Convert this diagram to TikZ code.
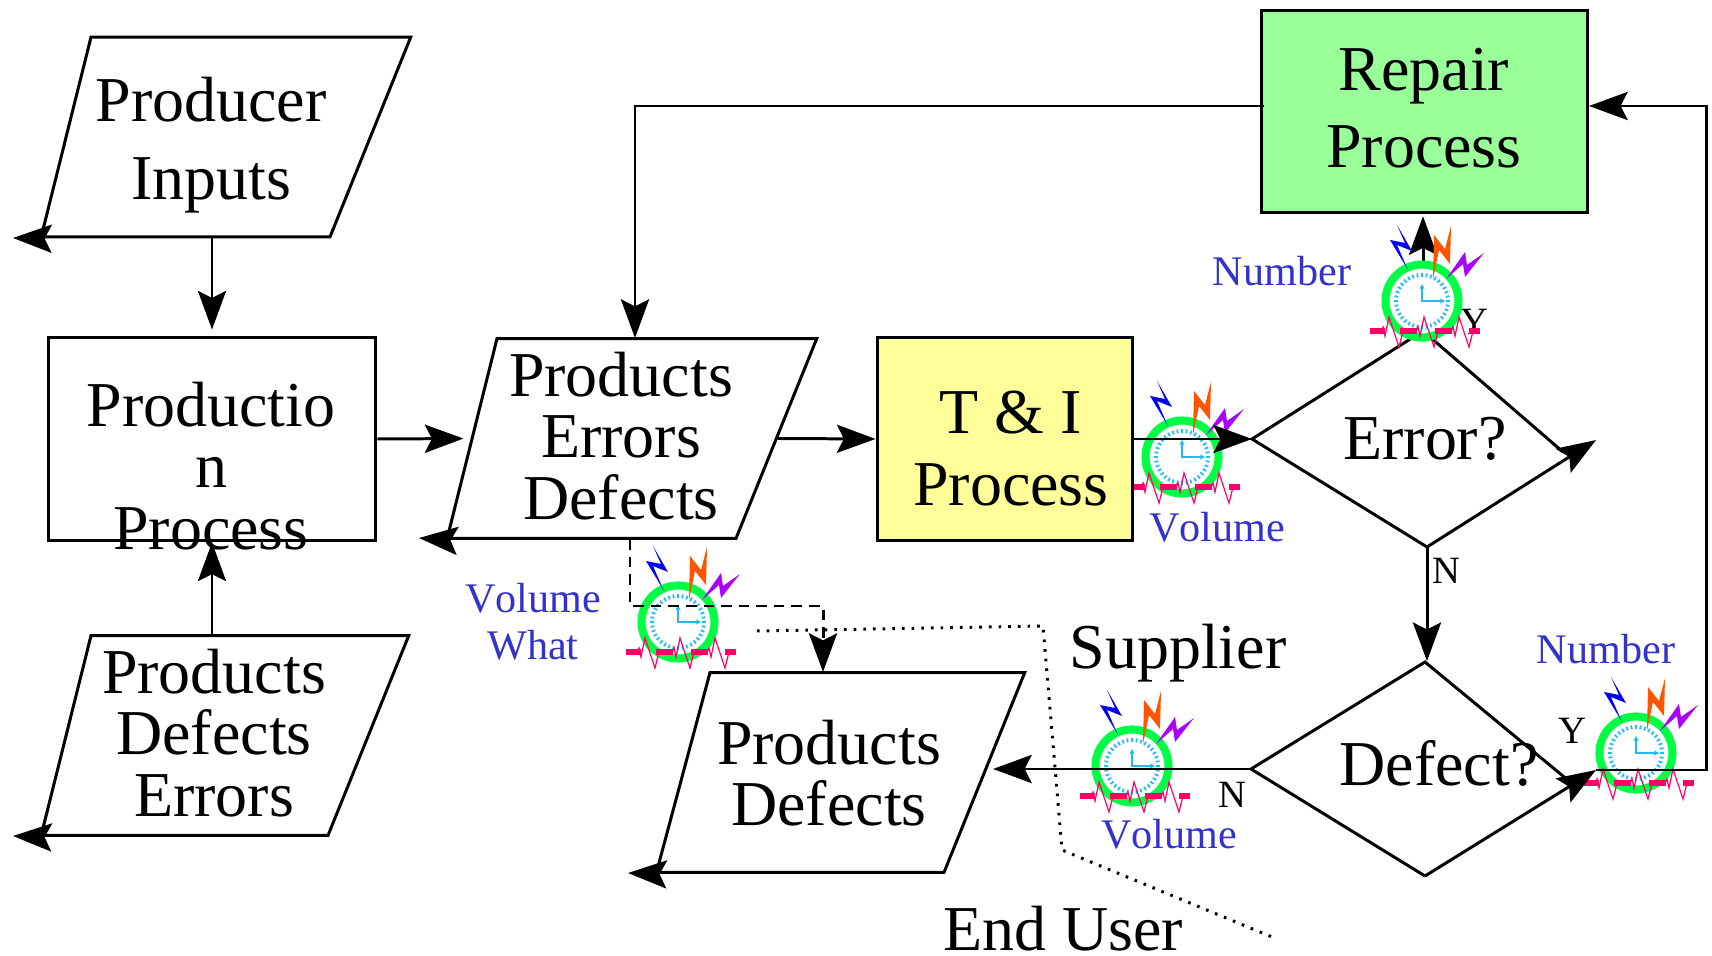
\documentclass[tikz,border=0pt]{standalone}
\usepackage{fontspec}
\setmainfont[Kerning=Off]{Liberation Serif}
\definecolor{TestYellow}{RGB}{255, 255, 153}
\definecolor{RepairGreen}{RGB}{153, 255, 153}
\definecolor{MetricBlue}{RGB}{51, 51, 204}
\definecolor{RingGreen}{RGB}{0, 255, 68}
\definecolor{DialCyan}{RGB}{34, 187, 238}
\definecolor{WavePink}{RGB}{255, 0, 102}
\definecolor{BoltBlue}{RGB}{0, 0, 255}
\definecolor{BoltOrange}{RGB}{255, 85, 0}
\definecolor{BoltPurple}{RGB}{170, 0, 255}
\usetikzlibrary{arrows.meta, shapes.geometric}

\tikzset{
  clockicon/.pic={
    \draw [RingGreen, line width=4.6pt, fill=white] (0,0) circle (36.5);
    \foreach \a in {0,10,...,350} \draw [DialCyan, line width=1pt] (\a:24) -- (\a:28);
    \draw [DialCyan, line width=1pt, {Stealth[length=3pt,width=3pt]}-{Stealth[length=3pt,width=3pt]}] (0,-17) -- (0,0) -- (23,0);
    \fill [BoltBlue] (-25,-76) -- (-10,-50) -- (-25,-56) -- (-14,-31) -- (-32,-61) -- (-17,-58) -- cycle;
    \fill [BoltOrange] (29,-75) -- (28,-37) -- (17,-51) -- (11,-22) -- (12,-66) -- (23,-52) -- cycle;
    \fill [BoltPurple] (62,-48) -- (43,-24) -- (41,-37) -- (24,-22) -- (43,-49) -- (45,-36) -- cycle;
    \foreach \s/\e in {-52/-37, -22/-5, 13/30, 47/58} \draw [WavePink, line width=3.2pt] (\s,30) -- (\e,30);
    \foreach \o in {0,35,70} \draw [WavePink, line width=0.7pt] ({\o-41},30) -- ({\o-39},26) -- ({\o-37},35) -- ({\o-33},16) -- ({\o-23},46) -- ({\o-19},30);
  }
}

\begin{document}
\begin{tikzpicture}[x=0.02cm, y=-0.02cm]
    \tikzstyle{inputbox} = [trapezium, trapezium left angle=76, trapezium right angle=112, draw, line width=1.7pt, inner sep=0pt, text width=4.78cm, text height=4cm, text depth=0pt]
    \tikzstyle{process} = [rectangle, draw, line width=1.7pt, inner sep=0pt, minimum width=6.56cm, minimum height=4.08cm]
    \tikzstyle{bigtext} = [align=center, inner sep=0pt, font=\fontsize{36.4}{35}\selectfont]
    \tikzstyle{widetext} = [align=center, inner sep=0pt, font=\fontsize{36.4}{44}\selectfont]
    \tikzstyle{metric} = [align=center, inner sep=0pt, text=MetricBlue, font=\fontsize{24}{26.6}\selectfont]
    \tikzstyle{answer} = [inner sep=0pt, font=\fontsize{22}{24}\selectfont]
    \tikzstyle{line} = [line width=1.7pt, line join=miter]
    \tikzstyle{arrow} = [->, >={Stealth[length=22pt, width=16pt, inset=4pt]}, line width=1.7pt]
    \useasboundingbox (0,0) rectangle (1712,956);

    % Clocks under the lines
    \pic (clockvolume) at (1182,457) {clockicon};
    \pic (clockwhat) at (678,622) {clockicon};
    \pic (clocksupplier) at (1132,766) {clockicon};
    \pic (clocknumber) at (1636,753) {clockicon};

    % Boxes
    \node (inputs) [inputbox] at (210.5,137) {};
    \node (production) [process] at (212,439) {};
    \node (defecterrors) [inputbox, text width=4.74cm] at (209.5,735.5) {};
    \node (products) [inputbox] at (616.5,438.5) {};
    \node (test) [process, fill=TestYellow, minimum width=5.12cm] at (1005,439) {};
    \node (repair) [process, fill=RepairGreen, minimum width=6.54cm, minimum height=4.06cm] at (1424.5,111.5) {};
    \node (enduser) [inputbox, text width=4.68cm, trapezium left angle=75] at (827,772.5) {};

    % Diamond corners
    \coordinate (errorleft) at (1252,439);
    \coordinate (errortop) at (1423,331);
    \coordinate (errorbottom) at (1427,547);
    \coordinate (errorright) at (1596,440);
    \coordinate (errorend) at (1563,452);
    \coordinate (defectleft) at (1251,769);
    \coordinate (defecttop) at (1425,662);
    \coordinate (defectbottom) at (1425,876);
    \coordinate (defectright) at (1596,770);
    \coordinate (defectend) at (1569,781);

    % Free ends
    \coordinate (inputstip) at (13,238);
    \coordinate (defecterrorstip) at (13,836);
    \coordinate (productstip) at (419,538);
    \coordinate (endusertip) at (628,873);
    \coordinate (repairout) at (1264,106);
    \coordinate (repairin) at (1589,106);
    \coordinate (productsin) at (635,338);
    \coordinate (rightturn) at (1706,106);
    \coordinate (dashstart) at (630,539);
    \coordinate (dashturn) at (630,606);
    \coordinate (dashend) at (823,672);
    \coordinate (dotstart) at (757,631);
    \coordinate (dotturna) at (1043,626);
    \coordinate (dotturnb) at (1062,850);
    \coordinate (dotend) at (1272,937);

    % Lines
    \draw [line] (errorend) -- (errortop) -- (errorleft) -- (errorbottom);
    \draw [line] (defectend) -- (defecttop) -- (defectleft) -- (defectbottom);
    \draw [arrow] (errorbottom) -- (errorright);
    \draw [arrow] (defectbottom) -- (defectright);
    \draw [arrow] (inputs.bottom left corner) -- (inputstip);
    \draw [arrow] (defecterrors.bottom left corner) -- (defecterrorstip);
    \draw [arrow] (products.bottom left corner) -- (productstip);
    \draw [arrow] (enduser.bottom left corner) -- (endusertip);
    \draw [arrow, shorten >=3.4pt] (production |- inputs.south) -- (production.north);
    \draw [arrow] (production |- defecterrors.north) -- (production.south);
    \draw [arrow, shorten >=4pt] (production.east) -- (products.west);
    \draw [arrow] (products.east) -- (test.west);
    \draw [arrow] (test.east) -- (errorleft);
    \draw [arrow, shorten >=0.5pt] (errorbottom) -- (defecttop -| errorbottom);
    \draw [arrow, shorten >=1pt] (errortop) -- (repair.south -| errortop);
    \draw [arrow] (repairout) -| (productsin);
    \draw [arrow] (defectright) -| (rightturn) -- (repairin);
    \draw [arrow, shorten >=4pt] (defectleft) -- (defectleft -| enduser.east);
    \draw [arrow, dash pattern=on 6pt off 4pt] (dashstart) -- (dashturn) -| (dashend);
    \draw [line, dash pattern=on 1.5pt off 4pt] (dotstart) -- (dotturna) -- (dotturnb) -- (dotend);

    % Labels
    \node (inputslabel) [widetext] at (211,145) {Producer\\Inputs};
    \node (productionlabel) [bigtext] at (211,466) {Productio\\n\\Process};
    \node (defecterrorslabel) [bigtext] at (214,733) {Products\\Defects\\Errors};
    \node (productslabel) [bigtext] at (621,436) {Products\\Errors\\Defects};
    \node (testlabel) [widetext, font=\fontsize{36.4}{41}\selectfont] at (1011,449) {T \& I\\Process};
    \node (repairlabel) [widetext] at (1424,108) {Repair\\Process};
    \node (enduserlabel) [bigtext] at (829,773) {Products\\Defects};
    \node (errorlabel) [bigtext] at (1425,439) {Error?};
    \node (defectlabel) [bigtext] at (1439,763) {Defect?};
    \node (supplierlabel) [bigtext] at (1178,653) {Supplier};
    \node (enduserhead) [bigtext] at (1063,929) {End User};
    \node (testvolume) [metric] at (1217,527) {Volume};
    \node (errornumber) [metric] at (1282,271) {Number};
    \node (volumewhat) [metric] at (533,622) {Volume\\What};
    \node (defectnumber) [metric] at (1606,649) {Number};
    \node (suppliervolume) [metric] at (1169,834) {Volume};
    \node (errorno) [answer] at (1446,571) {N};
    \node (erroryes) [answer] at (1474,322) {Y};
    \node (defectyes) [answer] at (1572,731) {Y};
    \node (defectno) [answer] at (1232,795) {N};

    % Clock over the line
    \pic (clockrepair) at (1422,301) {clockicon};
\end{tikzpicture}
\end{document}
